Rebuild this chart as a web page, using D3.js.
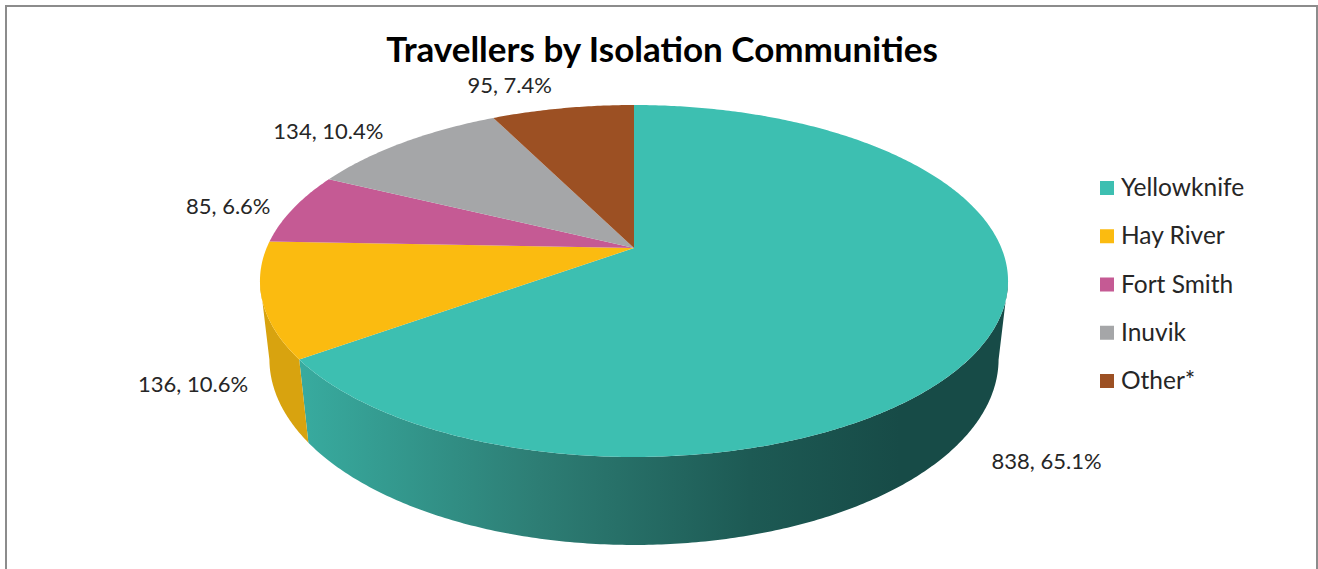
<!DOCTYPE html>
<html lang="en">
<head>
<meta charset="utf-8">
<title>Travellers by Isolation Communities</title>
<script src="https://cdn.jsdelivr.net/npm/d3@7"></script>
<style>
	html, body { margin: 0; padding: 0; background: #fff; overflow: hidden; }
	svg { display: block; }
	text { font-family: Lato, "Open Sans", sans-serif; }
</style>
</head>
<body>
<script>
var categories = ["Yellowknife", "Hay River", "Fort Smith", "Inuvik", "Other*"];
var travellers = [838, 136, 85, 134, 95];
var percents = ["65.1%", "10.6%", "6.6%", "10.4%", "7.4%"];

var colors = ["#3dbfb1", "#fbbb10", "#c55a94", "#a5a6a8", "#9c5023"];
// label offsets from the middle of each slice's rim
var labelDx = [55, -69, -65, -75, -53];
var labelDy = [128, 84, -2, -11, -23];

var w = 1318, h = 569;

// perspective of the tilted disc: top face fits the picture, z = 1 is the bottom face
var cx = 634, cy = 248, A = 367.4, B = 169.8, C = 78.9, k = 0.1875, m = 0.025;
function project(angle, z) {
	var u = Math.sin(angle), v = -Math.cos(angle);
	var d = 1 - k * v + m * z;
	return [cx + A * u / d, cy + (B * v + C * z) / d];
}
function rim(a0, a1, z) {
	var n = Math.max(2, Math.ceil(Math.abs(a1 - a0) / 0.01));
	return d3.range(n + 1).map(function(i) {
		return project(a0 + (a1 - a0) * i / n, z);
	});
}

var svg = d3.select("body").append("svg").attr("width", w).attr("height", h);
var line = d3.line();

svg.append("rect")
	.attr("x", 6).attr("y", 6).attr("width", 1311).attr("height", 600)
	.attr("fill", "#fff").attr("stroke", "#8c8c8c").attr("stroke-width", 2);

var grad = svg.append("defs").append("linearGradient")
	.attr("id", "wall").attr("gradientUnits", "userSpaceOnUse")
	.attr("x1", 300).attr("y1", 0).attr("x2", 900).attr("y2", 0);
[[0, "#38ab9f"], [0.4, "#2d7d74"], [0.75, "#1d5a54"], [1, "#174b47"]].forEach(function(s) {
	grad.append("stop").attr("offset", s[0]).attr("stop-color", s[1]);
});

var slices = d3.pie().sort(null).startAngle(0).endAngle(2 * Math.PI)(travellers);

// side walls stop where the disc's outline turns away from the viewer
var edgeAngle = Math.acos(-k);
var wallFill = ["url(#wall)", "#d8a30f"];
var wallFrom = [edgeAngle, slices[1].startAngle];
var wallTo = [slices[0].endAngle, 2 * Math.PI - edgeAngle];
wallFill.forEach(function(fill, i) {
	var pts = rim(wallFrom[i], wallTo[i], 0).concat(rim(wallFrom[i], wallTo[i], 1).reverse());
	svg.append("path").attr("d", line(pts) + "Z").attr("fill", fill);
});

// top face
svg.selectAll("path.top")
	.data(slices)
	.enter()
	.append("path")
	.attr("class", "top")
	.attr("fill", function(d, i) { return colors[i]; })
	.attr("d", function(d) {
		return line([[cx, cy]].concat(rim(d.startAngle, d.endAngle, 0))) + "Z";
	});

svg.selectAll("text.lab")
	.data(slices)
	.enter()
	.append("text")
	.attr("class", "lab")
	.attr("text-anchor", "middle")
	.attr("font-size", 22)
	.attr("fill", "#262626")
	.attr("x", function(d, i) { return project((d.startAngle + d.endAngle) / 2, 0)[0] + labelDx[i]; })
	.attr("y", function(d, i) { return project((d.startAngle + d.endAngle) / 2, 0)[1] + labelDy[i] + 8; })
	.text(function(d, i) { return d.value + ", " + percents[i]; });

svg.append("text")
	.attr("x", 662).attr("y", 62)
	.attr("text-anchor", "middle")
	.attr("font-size", 35).attr("font-weight", 700)
	.attr("fill", "#000")
	.text("Travellers by Isolation Communities");

// legend
var legendY = d3.scalePoint().domain(categories).range([188, 381]);
var legend = svg.selectAll("g.legend")
	.data(categories)
	.enter()
	.append("g")
	.attr("class", "legend")
	.attr("transform", function(d) { return "translate(1100," + legendY(d) + ")"; });
legend.append("rect")
	.attr("x", 0).attr("y", -7).attr("width", 14).attr("height", 14)
	.attr("fill", function(d, i) { return colors[i]; });
legend.append("text")
	.attr("x", 21).attr("y", 8)
	.attr("font-size", 24.5)
	.attr("fill", "#262626")
	.text(function(d) { return d; });
</script>
</body>
</html>
